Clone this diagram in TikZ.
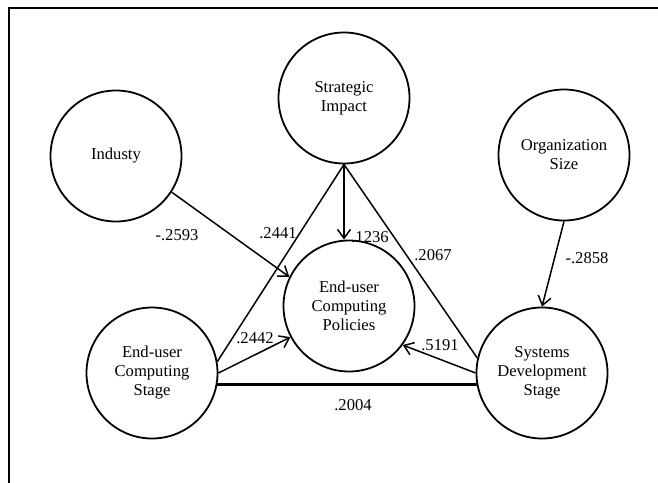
\documentclass[tikz,border=0pt]{standalone}
\usepackage{fontspec}
\setmainfont{Liberation Serif}
\usetikzlibrary{arrows.meta}
\begin{document}
\begin{tikzpicture}[x=0.5pt,y=-0.5pt,
  var/.style={circle,draw,line width=0.9pt,inner sep=0pt,minimum size=65.5pt,
    align=center,font=\fontsize{8.3}{9.5}\selectfont},
  lbl/.style={inner sep=0pt,font=\fontsize{8.3}{9.5}\selectfont},
  conn/.style={line width=0.75pt},
  arr/.style={conn,-{Straight Barb[length=4.5pt,width=6.5pt,line width=0.75pt]}}]
\useasboundingbox (0,0) rectangle (658,482);
\begin{scope}
\clip (0,0) rectangle (658,482);
\draw[line width=1pt] (9,500) -- (9,8) -- (670,8);
\end{scope}
\node[var] (si)  at (344,98)  {Strategic\\Impact};
\node[var] (ind) at (116,156) {Industy};
\node[var] (org) at (564,155) {Organization\\Size};
\node[var] (pol) at (349,306) {End-user\\Computing\\Policies};
\node[var] (ecs) at (152,373) {End-user\\Computing\\Stage};
\node[var] (sds) at (542,373) {Systems\\Development\\Stage};

\draw[conn] (si.south) -- (ecs.10);
\draw[conn] (si.south) -- (sds.167);
\draw[arr] (si.south) -- (si.south |- pol.north);
\draw[arr] (ind.-33) -- (pol.154);
\draw[arr] (ecs.0) -- (pol.208);
\draw[arr] (sds.180) -- (pol.-36);
\draw[arr] (org.south) -- (sds.north);
\draw[line width=1.1pt] (ecs.-10) -- (sds.190);

\node[lbl] (l1) at (177,235) {-.2593};
\node[lbl] (l2) at (278,233) {.2441};
\node[lbl] (l3) at (370,237) {.1236};
\node[lbl] (l4) at (433,255) {.2067};
\node[lbl] (l5) at (587,258) {-.2858};
\node[lbl] (l6) at (255,338) {.2442};
\node[lbl] (l7) at (440,345) {.5191};
\node[lbl] (l8) at (353,405) {.2004};
\end{tikzpicture}
\end{document}
